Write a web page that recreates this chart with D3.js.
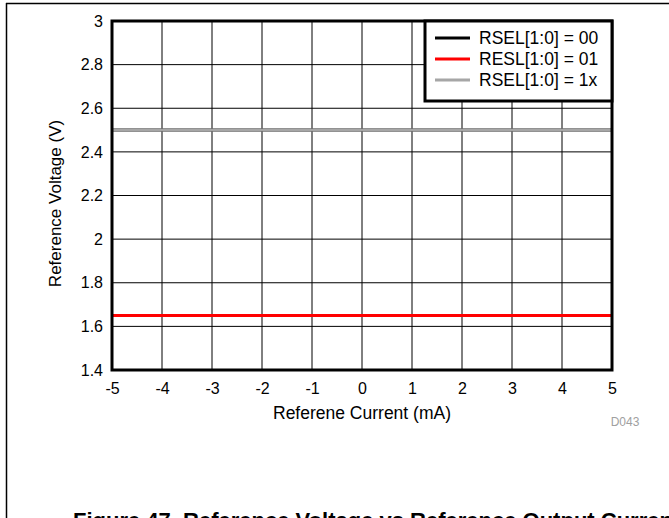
<!DOCTYPE html>
<html>
<head>
<meta charset="utf-8">
<script src="https://cdn.jsdelivr.net/npm/d3@7"></script>
<style>
  body { margin: 0; background: #fff; }
  svg text { font-family: Arial, "Liberation Sans", sans-serif; }
</style>
</head>
<body>
<div id="chart"></div>
<script>
// data
var currentMa = [-5, -4, -3, -2, -1, 0, 1, 2, 3, 4, 5];
var rsel00 = [2.5, 2.5, 2.5, 2.5, 2.5, 2.5, 2.5, 2.5, 2.5, 2.5, 2.5];
var rsel01 = [1.65, 1.65, 1.65, 1.65, 1.65, 1.65, 1.65, 1.65, 1.65, 1.65, 1.65];
var rsel1x = [2.5, 2.5, 2.5, 2.5, 2.5, 2.5, 2.5, 2.5, 2.5, 2.5, 2.5];
var seriesNames = ["RSEL[1:0] = 00", "RESL[1:0] = 01", "RSEL[1:0] = 1x"];
var seriesColors = ["#000000", "#ff0000", "#a6a6a6"];
var xTicks = [-5, -4, -3, -2, -1, 0, 1, 2, 3, 4, 5];
var yTicks = [1.4, 1.6, 1.8, 2, 2.2, 2.4, 2.6, 2.8, 3];

var W = 669, H = 518;
var margin = {top: 21, right: 57, bottom: 148, left: 112},
    width = W - margin.left - margin.right,
    height = H - margin.top - margin.bottom;

var svg = d3.select("#chart").append("svg")
    .attr("width", W)
    .attr("height", H)
    .style("display", "block");

// page frame
svg.append("line").attr("x1", 6).attr("x2", W).attr("y1", 3.5).attr("y2", 3.5)
    .attr("stroke", "#000").attr("stroke-width", 1.5);
svg.append("line").attr("x1", 6.5).attr("x2", 6.5).attr("y1", 3).attr("y2", H)
    .attr("stroke", "#000").attr("stroke-width", 1.5);

var g = svg.append("g")
    .attr("transform", "translate(" + margin.left + "," + margin.top + ")");

var x = d3.scaleLinear().domain([-5, 5]).range([0, width]);
var y = d3.scaleLinear().domain([1.4, 3]).range([height, 0]);

// grid
g.selectAll(".vgrid").data(xTicks).enter().append("line")
    .attr("class", "vgrid")
    .attr("x1", function(d) { return x(d); })
    .attr("x2", function(d) { return x(d); })
    .attr("y1", 0).attr("y2", height)
    .attr("stroke", "#000").attr("stroke-width", 1);

g.selectAll(".hgrid").data(yTicks).enter().append("line")
    .attr("class", "hgrid")
    .attr("x1", 0).attr("x2", width)
    .attr("y1", function(d) { return y(d); })
    .attr("y2", function(d) { return y(d); })
    .attr("stroke", "#000").attr("stroke-width", 1);

// series
var line = d3.line()
    .x(function(d, i) { return x(currentMa[i]); })
    .y(function(d) { return y(d); });

[rsel00, rsel01, rsel1x].forEach(function(s, i) {
  g.append("path")
      .datum(s)
      .attr("fill", "none")
      .attr("stroke", seriesColors[i])
      .attr("stroke-width", 3)
      .attr("d", line);
});

// axes (labels only, grid drawn above)
var xAxis = g.append("g")
    .attr("transform", "translate(0," + height + ")")
    .call(d3.axisBottom(x).tickValues(xTicks).tickSize(0).tickPadding(13)
          .tickFormat(function(d) { return String(d); }));
xAxis.select(".domain").remove();
xAxis.selectAll("text").attr("font-size", 16).attr("fill", "#000");

var yAxis = g.append("g")
    .call(d3.axisLeft(y).tickValues(yTicks).tickSize(0).tickPadding(9)
          .tickFormat(function(d) { return String(+d.toFixed(1)); }));
yAxis.select(".domain").remove();
yAxis.selectAll("text").attr("font-size", 16).attr("fill", "#000");

// plot border
g.append("rect")
    .attr("x", 0).attr("y", 0)
    .attr("width", width).attr("height", height)
    .attr("fill", "none")
    .attr("stroke", "#000")
    .attr("stroke-width", 3);

// axis titles
svg.append("text")
    .attr("x", margin.left + width / 2)
    .attr("y", 419)
    .attr("text-anchor", "middle")
    .attr("font-size", 17.5)
    .text("Referene Current (mA)");

svg.append("text")
    .attr("transform", "translate(61," + (margin.top + height / 2 + 8) + ") rotate(-90)")
    .attr("text-anchor", "middle")
    .attr("font-size", 17)
    .text("Reference Voltage (V)");

svg.append("text")
    .attr("x", 625)
    .attr("y", 426)
    .attr("text-anchor", "middle")
    .attr("font-size", 12)
    .attr("fill", "#a0a0a0")
    .text("D043");

// legend
var lg = g.append("g").attr("transform", "translate(" + (width - 187) + ",0)");
lg.append("rect")
    .attr("x", 0).attr("y", 0)
    .attr("width", 187).attr("height", 80)
    .attr("fill", "#fff")
    .attr("stroke", "#000")
    .attr("stroke-width", 3);

seriesNames.forEach(function(name, i) {
  var yy = 17 + i * 21;
  lg.append("line")
      .attr("x1", 10).attr("x2", 45)
      .attr("y1", yy).attr("y2", yy)
      .attr("stroke", seriesColors[i])
      .attr("stroke-width", 3);
  lg.append("text")
      .attr("x", 54)
      .attr("y", yy + 6)
      .attr("font-size", 17.5)
      .text(name);
});

// caption (the page cuts it at the bottom edge, as in the source)
svg.append("text")
    .attr("x", 73)
    .attr("y", 528)
    .attr("font-size", 22)
    .attr("font-weight", "bold")
    .text("Figure 47. Reference Voltage vs Reference Output Current");
</script>
</body>
</html>
